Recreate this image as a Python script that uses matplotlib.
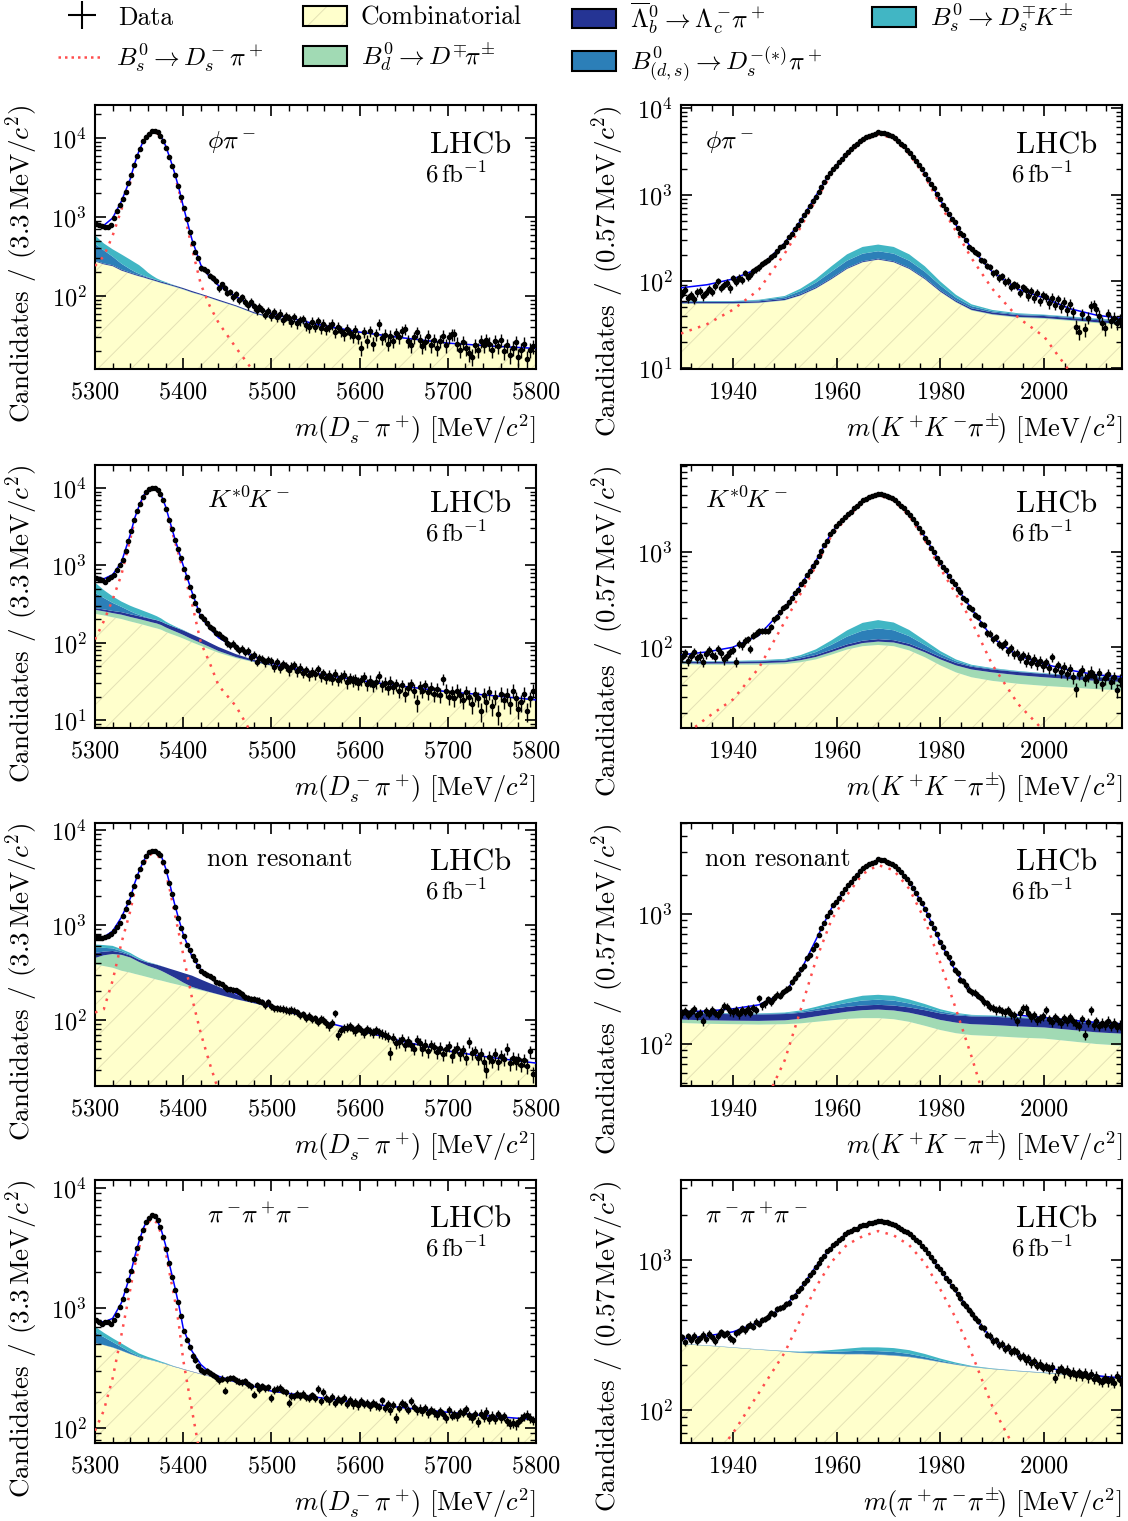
import numpy as np
import matplotlib
matplotlib.use("Agg")
import matplotlib.pyplot as plt
from matplotlib.lines import Line2D
from matplotlib.patches import Patch
from matplotlib.legend_handler import HandlerTuple
from matplotlib.ticker import MultipleLocator, LogLocator, NullFormatter

# ---------------------------------------------------------------------------
# values
# fit components are given at a set of mass nodes, data at every bin
# ---------------------------------------------------------------------------
NODES_L = [5300, 5310, 5320, 5330, 5340, 5345, 5350, 5355, 5360, 5365, 5370, 5375,
           5380, 5385, 5390, 5395, 5400, 5410, 5420, 5430, 5440, 5460, 5480, 5500,
           5550, 5600, 5650, 5700, 5750, 5800]
NODES_R = [1930, 1935, 1940, 1945, 1950, 1953, 1956, 1959, 1962, 1965, 1968, 1971,
           1974, 1977, 1980, 1983, 1986, 1990, 1995, 2000, 2005, 2010, 2015]

# bin centres: 3.3 MeV bins (Ds pi mass), 0.57 MeV bins (Ds mass)
BINS_L = 5300 + 3.3 * (np.arange(151) + 0.5)
BINS_R = 1930 + 0.57 * (np.arange(149) + 0.5)

# ---- phi pi, m(Ds pi) ----
SIG_1L = [240, 320, 580, 1250, 2750, 4500, 6700, 9000, 10900, 12000, 11600, 10300, 7850, 5400, 3550,
          2200, 1250, 400, 140, 75, 46, 22, 11, 5.5, 1, 0.2, 0.05, 0.01, 0.005, 0.001]
COMB_1L = [272, 250, 237, 208, 191, 183, 176, 170, 163, 157, 151, 145, 140, 135, 130, 125, 120, 110,
           102, 94, 86, 73, 60, 52, 42, 34, 29, 25, 23, 21.5]
BD_1L = [2, 2, 2, 2, 2, 2, 2, 2, 2, 2, 2, 2, 2, 2, 2, 2, 2, 1.5, 1.5, 1, 1, 1, 0.5, 0.5, 0.3, 0.2,
         0.1, 0.1, 0.1, 0.1]
LB_1L = [6, 6, 6, 6, 5, 5, 5, 5, 5, 5, 5, 5, 5, 4, 4, 4, 4, 4, 3, 3, 3, 2, 2, 1.5, 1, 0.5, 0.3, 0.2,
         0.1, 0.1]
DSST_1L = [180, 120, 70, 40, 20, 13, 8, 5, 3, 2, 1, 0.5, 0.2, 0.1, 0, 0, 0, 0, 0, 0, 0, 0, 0, 0, 0,
           0, 0, 0, 0, 0]
DSK_1L = [125, 85, 75, 80, 70, 63, 55, 40, 25, 15, 8, 5, 3, 2, 1, 0.5, 0.2, 0, 0, 0, 0, 0, 0, 0, 0,
          0, 0, 0, 0, 0]
DATA_1L = [810, 795, 770, 740, 745, 800, 960, 1180, 1420, 1700,
           2100, 2680, 3380, 4520, 5850, 7350, 9050, 10300, 11400, 12200,
           12250, 11800, 10600, 9200, 7400, 5800, 4450, 3400, 2500, 1780,
           1300, 950, 640, 470, 360, 300, 225, 218, 205, 180,
           170, 155, 125, 140, 128, 110, 112, 96, 105, 88,
           97, 84, 76, 85, 74, 66, 73, 67, 58, 65,
           56, 62, 54, 60, 50, 55, 52, 47, 54, 45,
           49, 51, 43, 40, 47, 41, 48, 39, 44, 38,
           41, 44, 35, 40, 36, 33, 38, 34, 31, 37,
           30, 22, 35, 27, 36, 25, 33, 44, 29, 32,
           25, 31, 27, 34, 30, 36, 38, 27, 24, 30,
           35, 28, 23, 26, 31, 24, 28, 22, 27, 31,
           24, 30, 33, 33, 25, 21, 26, 22, 19, 17,
           24, 21, 27, 24, 28, 25, 21, 27, 23, 28,
           20, 24, 18, 22, 26, 17, 21, 25, 16, 21,
           23]

# ---- phi pi, m(KK pi) ----
SIG_1R = [25, 32, 47, 80, 210, 415, 865, 1730, 2850, 4150, 4990, 4450, 2950, 1620, 760, 377, 185,
          82, 38, 23, 9, 3.5, 1.5]
COMB_1R = [55, 55, 55, 56, 60, 68, 82, 105, 138, 165, 177, 165, 138, 105, 75, 57, 46, 41, 38, 37,
           35, 33, 31.5]
BD_1R = [0.8, 0.8, 0.8, 0.8, 0.8, 0.9, 1, 1.2, 1.4, 1.5, 1.6, 1.5, 1.4, 1.2, 1, 0.9, 0.8, 0.8, 0.8,
         0.8, 0.8, 0.8, 0.8]
LB_1R = [2, 2, 2, 2, 2, 2.2, 2.5, 3, 3.5, 4, 4, 4, 3.5, 3, 2.5, 2, 2, 2, 2, 2, 2, 2, 2]
DSST_1R = [1, 1, 1, 1.5, 3, 6, 11, 20, 30, 38, 40, 38, 30, 20, 11, 5, 3, 1.5, 1, 1, 1, 1, 1]
DSK_1R = [0.5, 0.5, 0.5, 1, 2, 5, 10, 20, 32, 41, 43, 41, 32, 20, 10, 5, 2.5, 1.5, 1, 0.5, 0.5, 0.5,
          0.5]
DATA_1R = [72, 80, 64, 70, 62, 75, 78, 67, 74, 82,
           76, 88, 100, 84, 91, 96, 83, 108, 99, 110,
           104, 125, 111, 117, 130, 137, 145, 160, 166, 175,
           192, 204, 222, 248, 258, 288, 322, 355, 400, 445,
           505, 580, 650, 735, 850, 950, 1080, 1240, 1390, 1590,
           1780, 2000, 2170, 2410, 2610, 2900, 3140, 3340, 3620, 3850,
           4150, 4430, 4580, 4740, 4900, 5060, 5240, 5210, 5100, 4980,
           4870, 4760, 4500, 4180, 3850, 3600, 3300, 3060, 2720, 2460,
           2180, 1970, 1750, 1520, 1340, 1180, 1010, 880, 770, 690,
           600, 525, 480, 415, 365, 340, 300, 250, 235, 218,
           208, 175, 172, 150, 146, 124, 128, 110, 114, 98,
           102, 86, 92, 89, 74, 85, 79, 68, 77, 65,
           74, 59, 70, 66, 56, 65, 54, 62, 50, 58,
           47, 55, 44, 30, 26, 42, 28, 38, 52, 54,
           48, 40, 33, 29, 42, 35, 38, 33, 36]

# ---- K*0 K, m(Ds pi) ----
SIG_2L = [110, 190, 360, 760, 2200, 3800, 5600, 7750, 9200, 9800, 9300, 7900, 5600, 3480, 2150,
          1370, 850, 320, 100, 55, 28, 15, 6, 2, 0.3, 0.05, 0.01, 0.002, 0.001, 0.001]
COMB_2L = [236, 225, 213, 202, 188, 182, 176, 170, 164, 158, 153, 147, 138, 131, 125, 119, 113, 101,
           91, 82, 74, 63, 56, 50, 39, 32, 27, 23, 20.5, 18]
BD_2L = [30, 29, 28, 28, 27, 26.5, 26, 25.5, 25, 24.5, 24, 22, 20, 18, 16, 14.5, 13, 10, 8, 6, 4, 2,
         1, 0.6, 0.3, 0.1, 0.1, 0.1, 0.1, 0.1]
LB_2L = [14, 15, 16, 18, 18, 18, 18, 18, 18, 18, 18, 18, 18, 18, 18, 18, 18, 17, 15, 12, 10, 6, 3,
         1.5, 0.5, 0.2, 0.1, 0.1, 0.1, 0.1]
DSST_2L = [160, 110, 70, 42, 22, 14, 9, 5, 3, 2, 1, 0.5, 0.2, 0.1, 0, 0, 0, 0, 0, 0, 0, 0, 0, 0, 0,
           0, 0, 0, 0, 0]
DSK_2L = [160, 100, 70, 50, 45, 44, 42, 39, 35, 30, 24, 18, 12, 8, 5, 3, 2, 0.5, 0, 0, 0, 0, 0, 0,
          0, 0, 0, 0, 0, 0]
DATA_2L = [690, 660, 640, 610, 660, 700, 760, 880, 1000, 1180,
           1540, 2080, 2820, 3860, 5050, 6250, 7750, 8850, 9700, 10050,
           9900, 9350, 8300, 6950, 5300, 3900, 2920, 2150, 1620, 1250,
           900, 700, 520, 400, 330, 265, 220, 205, 180, 160,
           150, 135, 130, 118, 112, 98, 92, 97, 88, 80,
           84, 75, 78, 66, 70, 57, 64, 62, 56, 60,
           58, 49, 56, 47, 53, 50, 44, 49, 51, 43,
           47, 41, 44, 38, 42, 39, 45, 37, 40, 35,
           38, 34, 39, 33, 36, 38, 31, 35, 32, 34,
           30, 33, 36, 29, 32, 28, 31, 37, 28, 30,
           26, 31, 27, 29, 24, 28, 22, 26, 29, 24,
           17, 27, 24, 28, 23, 26, 22, 25, 21, 34,
           24, 20, 23, 19, 24, 21, 18, 23, 20, 16,
           22, 19, 13, 21, 17, 23, 15, 20, 12, 22,
           18, 21, 16, 24, 19, 14, 17, 22, 13, 19,
           24]

# ---- K*0 K, m(KK pi) ----
SIG_2R = [11, 18, 28, 60, 185, 360, 710, 1490, 2300, 3330, 3960, 3500, 2400, 1330, 670, 360, 187,
          65, 25, 13, 6, 2, 0.5]
COMB_2R = [66, 65, 65, 65, 66, 69, 74, 83, 94, 102, 105, 102, 92, 78, 64, 54, 48, 44, 41, 39, 37.5,
           36, 35]
BD_2R = [1.5, 1.8, 2, 2.5, 3, 3.5, 4.5, 5.5, 6.5, 8, 9, 9.5, 10, 10, 10, 10, 10, 10, 9.5, 9, 8.5, 8,
         8]
LB_2R = [3, 3, 3, 3, 3, 3.5, 4, 5, 6, 6.5, 7, 6.5, 6, 5, 4.5, 4, 4, 4, 4, 4, 4, 4, 4]
DSST_2R = [0.5, 0.5, 0.7, 1, 1.5, 3, 6, 12, 22, 32, 36, 32, 22, 12, 6, 3, 1.5, 1, 0.7, 0.5, 0.5,
           0.5, 0.5]
DSK_2R = [0.5, 0.5, 0.7, 1, 1.5, 3, 6, 12, 21, 31, 35, 31, 21, 12, 6, 3, 1.5, 1, 0.7, 0.5, 0.5, 0.5,
          0.5]
DATA_2R = [78, 86, 72, 80, 88, 76, 81, 70, 84, 92,
           83, 79, 95, 86, 74, 81, 88, 94, 70, 108,
           104, 117, 120, 96, 132, 138, 146, 148, 149, 148,
           162, 195, 208, 232, 260, 270, 296, 330, 370, 400,
           455, 500, 570, 625, 715, 790, 910, 1020, 1180, 1320,
           1530, 1680, 1860, 2000, 2150, 2360, 2520, 2660, 2880, 3050,
           3280, 3540, 3620, 3780, 3850, 4010, 4100, 4120, 4000, 3880,
           3780, 3720, 3500, 3300, 3050, 2880, 2650, 2480, 2200, 2000,
           1770, 1620, 1420, 1280, 1110, 1010, 870, 790, 690, 640,
           555, 500, 465, 405, 375, 330, 310, 262, 250, 218,
           205, 175, 170, 140, 138, 120, 126, 108, 102, 111,
           90, 98, 84, 87, 76, 82, 70, 79, 68, 75,
           66, 72, 63, 69, 60, 78, 57, 64, 55, 61,
           52, 59, 48, 36, 52, 57, 46, 50, 55, 49,
           44, 53, 41, 47, 52, 43, 48, 35, 45]

# ---- non resonant, m(Ds pi) ----
SIG_3L = [120, 130, 260, 650, 1400, 2280, 3250, 4270, 5300, 5660, 5420, 5000, 3620, 2310, 1365,
          825, 490, 170, 72, 35, 18, 5, 1.2, 0.3, 0.02, 0.001, 0.001, 0.001, 0.001, 0.001]
COMB_3L = [385, 370, 355, 330, 315, 306, 298, 290, 282, 274, 266, 260, 253, 246, 240, 234, 228, 215,
           205, 195, 185, 165, 150, 135, 100, 77, 59, 47, 40, 35]
BD_3L = [65, 110, 140, 155, 140, 125, 110, 100, 90, 85, 80, 70, 60, 50, 40, 30, 20, 8, 4, 2, 1, 0.5,
         0.3, 0.2, 0.1, 0.1, 0.1, 0.1, 0.1, 0.1]
LB_3L = [57, 45, 38, 27, 23, 23, 23, 26, 30, 33, 36, 40, 45, 50, 55, 60, 65, 70, 58, 47, 38, 20, 7,
         2.5, 0.3, 0.1, 0.1, 0.1, 0.1, 0.1]
DSST_3L = [70, 50, 35, 20, 10, 6, 4, 2, 1, 0.5, 0.2, 0, 0, 0, 0, 0, 0, 0, 0, 0, 0, 0, 0, 0, 0, 0, 0,
           0, 0, 0]
DSK_3L = [45, 40, 35, 25, 20, 17, 15, 10, 6, 4, 2, 1, 0.5, 0, 0, 0, 0, 0, 0, 0, 0, 0, 0, 0, 0, 0, 0,
          0, 0, 0]
DATA_3L = [745, 740, 738, 745, 775, 800, 860, 950, 1060, 1230,
           1480, 1760, 2100, 2600, 3250, 3880, 4580, 5280, 5830, 6060,
           6020, 5780, 5420, 4640, 3720, 2800, 2100, 1560, 1180, 940,
           760, 620, 540, 470, 430, 370, 330, 310, 300, 290,
           275, 250, 245, 238, 225, 212, 210, 208, 205, 198,
           186, 176, 170, 168, 166, 162, 160, 155, 143, 155,
           140, 134, 133, 132, 131, 128, 125, 128, 125, 120,
           112, 115, 106, 110, 102, 104, 96, 103, 100, 92,
           86, 94, 118, 70, 78, 82, 83, 86, 80, 77,
           84, 78, 73, 80, 76, 73, 78, 74, 72, 70,
           67, 45, 65, 57, 58, 63, 55, 60, 54, 50,
           62, 57, 49, 55, 47, 54, 52, 46, 51, 44,
           49, 53, 42, 47, 51, 44, 48, 40, 58, 45,
           47, 40, 44, 36, 30, 41, 37, 44, 36, 42,
           39, 50, 35, 40, 36, 39, 34, 38, 33, 47,
           27]

# ---- non resonant, m(KK pi) ----
SIG_3R = [1.5, 5, 14, 28, 75, 180, 440, 900, 1400, 2030, 2380, 2170, 1560, 900, 420, 185, 80, 24, 5,
          1, 0.2, 0.05, 0.01]
COMB_3R = [145, 143, 142, 141, 142, 144, 148, 152, 156, 158, 158, 155, 148, 138, 128, 121, 117, 115,
           112, 110, 105, 100, 97]
BD_3R = [9, 9, 9, 9.5, 10, 12, 15, 18, 21, 24, 26, 26, 26, 26, 25, 25, 25, 25, 24.5, 24, 23.5, 23,
         23]
LB_3R = [19, 19, 18.5, 18, 18, 17.5, 17, 16.5, 16, 16, 16, 16.5, 17, 18, 19, 20, 21, 22, 22, 21.5,
         21, 20.5, 20]
DSST_3R = [2, 2, 2, 2, 2.5, 3.5, 6, 10, 14, 18, 19, 18, 14, 10, 6, 3.5, 2.5, 2, 2, 2, 2, 2, 2]
DSK_3R = [1, 1, 1, 1.5, 2, 4, 7, 11, 15, 19, 20, 19, 15, 11, 7, 4, 2, 1.5, 1, 1, 1, 1, 1]
DATA_3R = [172, 180, 168, 176, 185, 166, 174, 150, 178, 171,
           183, 174, 168, 180, 196, 193, 178, 175, 181, 170,
           182, 177, 186, 173, 189, 184, 224, 198, 205, 220,
           212, 227, 240, 236, 251, 262, 270, 300, 322, 345,
           375, 400, 455, 480, 535, 580, 690, 780, 850, 960,
           1040, 1170, 1240, 1330, 1460, 1550, 1670, 1750, 1900, 2000,
           2150, 2260, 2350, 2410, 2480, 2530, 2630, 2610, 2580, 2530,
           2470, 2440, 2320, 2200, 2100, 1950, 1860, 1740, 1580, 1450,
           1310, 1210, 1090, 990, 860, 780, 700, 610, 560, 500,
           465, 420, 370, 350, 312, 305, 282, 262, 250, 248,
           236, 225, 212, 205, 194, 190, 182, 186, 178, 175,
           181, 170, 166, 150, 172, 188, 190, 174, 160, 166,
           152, 158, 164, 183, 156, 148, 160, 153, 145, 158,
           150, 161, 150, 143, 138, 155, 118, 147, 181, 141,
           150, 137, 145, 140, 151, 138, 146, 135, 141]

# ---- pi pi pi, m(Ds pi) ----
SIG_4L = [95, 140, 260, 600, 1430, 2240, 3190, 4250, 5160, 5530, 5130, 4150, 3000, 1880, 1225, 740,
          370, 140, 55, 20, 10, 2, 0.4, 0.1, 0.01, 0.001, 0.001, 0.001, 0.001, 0.001]
COMB_4L = [508, 490, 468, 440, 412, 400, 388, 380, 372, 365, 357, 348, 340, 331, 322, 315, 307, 293,
           280, 268, 257, 238, 220, 202, 180, 162, 147, 135, 125, 117]
BD_4L = [1, 1, 1, 1, 1, 1, 1, 1, 1, 1, 1, 1, 1, 1, 1, 1, 1, 1, 1, 1, 1, 0.8, 0.6, 0.5, 0.4, 0.3, 0.3,
         0.2, 0.2, 0.2]
LB_4L = [1, 1, 1, 1, 1, 1, 1, 1, 1, 1, 1.5, 1.5, 2, 2, 2, 2, 2, 2, 2, 2, 2, 1.5, 1, 0.5, 0.3, 0.2,
         0.1, 0.1, 0.1, 0.1]
DSST_4L = [120, 80, 50, 30, 15, 10, 6, 4, 2, 1, 0.5, 0.2, 0, 0, 0, 0, 0, 0, 0, 0, 0, 0, 0, 0, 0, 0,
           0, 0, 0, 0]
DSK_4L = [70, 50, 40, 35, 30, 26, 22, 18, 15, 12, 9, 7, 5, 3, 2, 1.5, 1, 0.5, 0.2, 0, 0, 0, 0, 0, 0,
          0, 0, 0, 0, 0]
DATA_4L = [800, 770, 740, 760, 758, 740, 800, 880, 1010, 1180,
           1400, 1700, 2050, 2580, 3180, 3820, 4500, 5180, 5650, 5920,
           5850, 5450, 4700, 3880, 3100, 2350, 1820, 1420, 1120, 860,
           640, 545, 470, 400, 370, 330, 305, 295, 300, 290,
           278, 265, 250, 258, 205, 255, 262, 262, 250, 243,
           240, 245, 232, 224, 190, 228, 210, 222, 215, 219,
           178, 208, 213, 216, 205, 198, 162, 185, 184, 192,
           185, 193, 180, 178, 187, 179, 212, 168, 200, 178,
           170, 182, 163, 175, 168, 178, 160, 171, 157, 166,
           155, 168, 158, 163, 152, 161, 155, 150, 170, 147,
           160, 140, 156, 122, 148, 163, 155, 142, 168, 150,
           141, 145, 138, 147, 133, 142, 136, 128, 139, 131,
           121, 141, 127, 130, 125, 136, 134, 144, 128, 122,
           130, 112, 132, 124, 137, 119, 127, 118, 131, 121,
           126, 114, 108, 110, 107, 112, 120, 126, 129, 122,
           116]

# ---- pi pi pi, m(pi pi pi) ----
SIG_4R = [20, 42, 70, 130, 242, 400, 660, 970, 1265, 1440, 1560, 1460, 1255, 955, 635, 408, 240, 106,
          50, 16, 5, 1.5, 0.5]
COMB_4R = [275, 268, 260, 252, 245, 240, 238, 236, 235, 235, 233, 230, 225, 217, 208, 200, 193, 187,
           181, 176, 171, 166, 161]
BD_4R = [0.5, 0.5, 0.5, 0.5, 0.5, 0.5, 0.6, 0.7, 0.8, 0.9, 1, 1, 1, 0.9, 0.8, 0.7, 0.6, 0.5, 0.5,
         0.5, 0.5, 0.5, 0.5]
LB_4R = [0.5, 0.5, 0.5, 0.5, 0.5, 0.5, 0.5, 0.6, 0.7, 0.8, 0.8, 0.8, 0.7, 0.6, 0.5, 0.5, 0.5, 0.5,
         0.5, 0.5, 0.5, 0.5, 0.5]
DSST_4R = [0.5, 0.5, 0.5, 0.5, 1, 2, 4, 7, 10, 12, 12, 12, 10, 7, 4, 2, 1, 0.5, 0.5, 0.5, 0.5, 0.5,
           0.5]
DSK_4R = [0.5, 0.5, 0.5, 0.5, 1, 2, 4, 7, 10, 13, 15, 15, 14, 11, 7, 4, 2, 1, 0.5, 0.5, 0.5, 0.5,
          0.5]
DATA_4R = [305, 282, 310, 294, 312, 288, 300, 318, 296, 322,
           305, 290, 312, 331, 318, 326, 302, 292, 325, 336,
           352, 340, 362, 371, 360, 388, 375, 398, 405, 420,
           442, 436, 470, 480, 488, 510, 520, 565, 580, 625,
           650, 700, 735, 790, 830, 895, 950, 1015, 1060, 1140,
           1190, 1260, 1300, 1370, 1410, 1490, 1540, 1555, 1610, 1620,
           1680, 1710, 1720, 1760, 1770, 1800, 1830, 1830, 1800, 1780,
           1760, 1740, 1700, 1660, 1620, 1560, 1540, 1480, 1430, 1350,
           1310, 1240, 1180, 1120, 1040, 990, 915, 870, 820, 760,
           725, 668, 640, 590, 560, 515, 495, 465, 440, 410,
           392, 360, 350, 318, 312, 288, 292, 270, 276, 255,
           262, 245, 250, 242, 226, 230, 215, 222, 206, 212,
           198, 203, 192, 196, 188, 194, 164, 182, 190, 178,
           185, 174, 180, 170, 178, 168, 176, 165, 174, 162,
           168, 159, 154, 164, 156, 160, 152, 168, 158]

MODE_LABELS = [r'$\phi\pi^-$', r'$K^{*0}\!K^-$', 'non resonant', r'$\pi^-\!\pi^+\!\pi^-$']

# ---------------------------------------------------------------------------
plt.rcParams.update({
    'font.family': 'serif',
    'font.serif': ['cmr10'],
    'mathtext.fontset': 'cm',
    'axes.formatter.use_mathtext': True,
    'axes.unicode_minus': False,
    'axes.linewidth': 1.5,
    'hatch.linewidth': 0.7,
})

RED = '#ff4d4d'
YELLOW = '#ffffcc'
HATCH_COL = '#e4e1b4'
COMP_STYLES = [
    dict(facecolor=YELLOW, edgecolor=HATCH_COL, hatch='/', linewidth=0),  # combinatorial
    dict(facecolor='#a1dab4', linewidth=0),                               # Bd -> D pi
    dict(facecolor='#253494', linewidth=0),                               # Lb -> Lc pi
    dict(facecolor='#2c7fb8', linewidth=0),                               # B -> Ds(*) pi
    dict(facecolor='#41b6c4', linewidth=0),                               # Bs -> Ds K
]


def draw_panel(ax, nodes, comps, sig, bins, data, ylim, xlim):
    nodes = np.asarray(nodes, float)
    floor = np.full(len(nodes), ylim[0] * 0.5)
    lower = floor
    cum = np.zeros(len(nodes))
    for vals, style in zip(comps, COMP_STYLES):
        cum = cum + np.asarray(vals, float)
        upper = np.maximum(cum, floor)
        ax.fill_between(nodes, lower, upper, **style)
        lower = upper
    total = cum + np.asarray(sig, float)
    ax.plot(nodes, sig, color=RED, lw=1.8, dashes=(1, 2.6), zorder=3)
    ax.plot(nodes, total, color='blue', lw=1.1, zorder=4)
    data = np.asarray(data, float)
    ax.errorbar(bins, data, yerr=np.sqrt(data), fmt='o', ms=3.0, color='k',
                elinewidth=1.0, capsize=0, zorder=5)
    ax.set_yscale('log')
    ax.set_ylim(ylim)
    ax.set_xlim(xlim)


fig = plt.figure(figsize=(11.28, 15.21), dpi=100)
W, H = 1128.0, 1521.0
rows_px = [(105, 369), (465, 728), (823, 1086), (1180, 1443)]

left_panels = [
    ((COMB_1L, BD_1L, LB_1L, DSST_1L, DSK_1L), SIG_1L, DATA_1L, (11.9, 26170)),
    ((COMB_2L, BD_2L, LB_2L, DSST_2L, DSK_2L), SIG_2L, DATA_2L, (7.88, 19830)),
    ((COMB_3L, BD_3L, LB_3L, DSST_3L, DSK_3L), SIG_3L, DATA_3L, (20.2, 11850)),
    ((COMB_4L, BD_4L, LB_4L, DSST_4L, DSK_4L), SIG_4L, DATA_4L, (75.0, 11660)),
]
right_panels = [
    ((COMB_1R, BD_1R, LB_1R, DSST_1R, DSK_1R), SIG_1R, DATA_1R, (9.74, 10830)),
    ((COMB_2R, BD_2R, LB_2R, DSST_2R, DSK_2R), SIG_2R, DATA_2R, (14.04, 8237)),
    ((COMB_3R, BD_3R, LB_3R, DSST_3R, DSK_3R), SIG_3R, DATA_3R, (47.5, 5012)),
    ((COMB_4R, BD_4R, LB_4R, DSST_4R, DSK_4R), SIG_4R, DATA_4R, (60.3, 3415)),
]
right_xlabels = ([r'$m(K^+\!K^-\!\pi^{\pm}\!)$ [MeV/$c^2$]'] * 3
                 + [r'$m(\pi^+\!\pi^-\!\pi^{\pm}\!)$ [MeV/$c^2$]'])

for r, (top, bot) in enumerate(rows_px):
    y0 = 1 - bot / H
    h = (bot - top) / H
    for side in ('L', 'R'):
        if side == 'L':
            ax = fig.add_axes([95 / W, y0, 441 / W, h])
            comps, sig, data, ylim = left_panels[r]
            draw_panel(ax, NODES_L, comps, sig, BINS_L, data, ylim, (5300, 5800))
            ax.xaxis.set_major_locator(MultipleLocator(100))
            ax.xaxis.set_minor_locator(MultipleLocator(20))
            ax.set_xlabel(r'$m(D_s^-\pi^+\!)$ [MeV/$c^2$]', loc='right', fontsize=19, labelpad=6)
            ax.set_ylabel(r'Candidates / (3.3$\,$MeV/$c^2$)', loc='top', fontsize=19.5, labelpad=8)
            lab_x = 0.254
        else:
            ax = fig.add_axes([681 / W, y0, 441 / W, h])
            comps, sig, data, ylim = right_panels[r]
            draw_panel(ax, NODES_R, comps, sig, BINS_R, data, ylim, (1930, 2015))
            ax.xaxis.set_major_locator(MultipleLocator(20))
            ax.xaxis.set_minor_locator(MultipleLocator(4))
            ax.set_xlabel(right_xlabels[r], loc='right', fontsize=19, labelpad=6)
            ax.set_ylabel(r'Candidates / (0.57$\,$MeV/$c^2$)', loc='top', fontsize=19.5, labelpad=8)
            lab_x = 0.054
        ax.yaxis.set_major_locator(LogLocator(base=10))
        ax.yaxis.set_minor_locator(LogLocator(base=10, subs=np.arange(2, 10)))
        ax.yaxis.set_minor_formatter(NullFormatter())
        ax.tick_params(which='both', direction='in', top=True, right=True, labelsize=17.5)
        ax.tick_params(which='major', length=8, width=1.2)
        ax.tick_params(which='minor', length=4.5, width=1.0)
        ax.tick_params(axis='x', which='major', pad=9)
        ax.tick_params(axis='y', which='major', pad=6)
        ax.text(0.76, 0.818, 'LHCb', transform=ax.transAxes, fontsize=22, ha='left', va='baseline')
        ax.text(0.748, 0.708, r'6$\,$fb$^{-1}$', transform=ax.transAxes, fontsize=18,
                ha='left', va='baseline')
        ax.text(lab_x, 0.838, MODE_LABELS[r], transform=ax.transAxes, fontsize=18.5,
                ha='left', va='baseline')

# ---- legend across the top ----
comb_handle = (Patch(facecolor=YELLOW, edgecolor=HATCH_COL, hatch='/', lw=0),
               Patch(facecolor='none', edgecolor='k', lw=1.5))
legend_items = [
    (Line2D([], [], color='k', marker='+', markersize=20, mew=1.5, linestyle='none'),
     'Data', 60, 18),
    (Line2D([], [], color=RED, lw=1.8, dashes=(1, 1.6)),
     r'$B_s^0 \rightarrow D_s^- \pi^+$', 58, 58),
    (comb_handle, 'Combinatorial', 303, 18),
    (Patch(facecolor='#a1dab4', edgecolor='k', lw=1.5),
     r'$B_d^0 \rightarrow D^{\mp}\!\pi^{\pm}$', 303, 57),
    (Patch(facecolor='#253494', edgecolor='k', lw=1.5),
     r'$\overline{\Lambda}_b^0 \rightarrow \Lambda_c^-\!\pi^+$', 572, 18),
    (Patch(facecolor='#2c7fb8', edgecolor='k', lw=1.5),
     r'$B^0_{(d,s)} \rightarrow D_s^{-(*)}\pi^+$', 572, 64),
    (Patch(facecolor='#41b6c4', edgecolor='k', lw=1.5),
     r'$B_s^0 \rightarrow D_s^{\mp}\!K^{\pm}$', 872, 18),
]
for handle, label, x, y in legend_items:
    fig.legend(handles=[handle], labels=[label], loc='center left',
               bbox_to_anchor=(x / W, 1 - y / H), frameon=False, borderpad=0,
               borderaxespad=0, handlelength=1.7, handleheight=0.8, handletextpad=0.55,
               fontsize=18.5, handler_map={tuple: HandlerTuple(ndivide=1, pad=0)})

fig.savefig('out.png', dpi=100)
